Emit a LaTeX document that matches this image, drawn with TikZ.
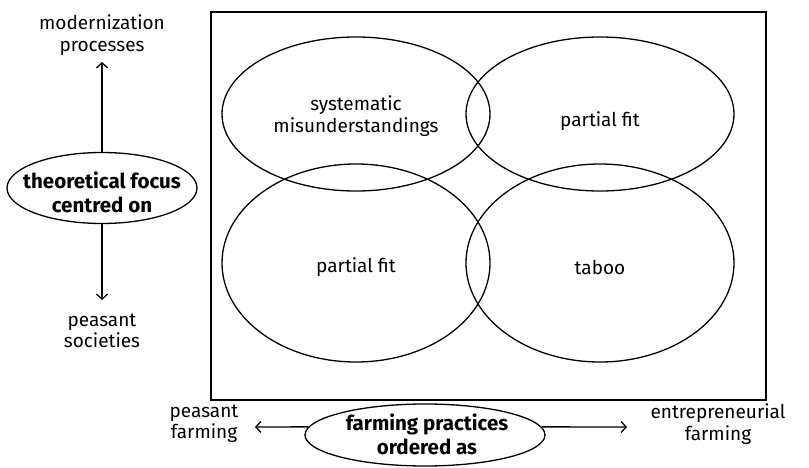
\documentclass[tikz,border=0pt]{standalone}
\usepackage{fontspec}
\setmainfont{Fira Sans}
\usetikzlibrary{shapes.geometric,arrows.meta}
\begin{document}
\begin{tikzpicture}[x=1pt,y=-1pt,
  lbl/.style={align=center,font=\fontsize{19}{21.5}\selectfont,inner sep=0pt},
  blbl/.style={align=center,font=\fontsize{20.5}{24}\selectfont\bfseries,inner sep=0pt},
  ell/.style={draw,ellipse,line width=1.3pt,inner sep=0pt},
  arr/.style={line width=1.3pt,-{Straight Barb[length=5pt,width=11pt]}}]
\useasboundingbox[fill=white] (0,0) rectangle (809,468);
% frame
\node[draw,line width=2.8pt,minimum width=555pt,minimum height=388pt,inner sep=0pt] (frame) at (488.5,206) {};
% four ellipses
\node[ell,minimum width=268pt,minimum height=154pt] (tl) at (356,114) {};
\node[ell,minimum width=268pt,minimum height=154pt] (tr) at (600,114) {};
\node[ell,minimum width=268pt,minimum height=198pt] (bl) at (356,263) {};
\node[ell,minimum width=268pt,minimum height=198pt] (br) at (600,263) {};
\node[lbl] (tlt) at (356,116) {systematic\\misunderstandings};
\node[lbl] (trt) at (600,121) {partial fit};
\node[lbl] (blt) at (356,267) {partial fit};
\node[lbl] (brt) at (600,267) {taboo};
% vertical axis
\node[ell,minimum width=190pt,minimum height=71pt] (focus) at (102,188) {};
\node[blbl] (focust) at (102,192) {theoretical focus\\centred on};
\node[lbl] (mod) at (102,35) {modernization\\processes};
\node[lbl] (peas) at (102,331) {peasant\\societies};
\coordinate (uptip) at (102,62);
\coordinate (downtip) at (102,300);
\draw[arr] (focus.north) -- (uptip);
\draw[arr] (focus.south) -- (downtip);
% horizontal axis
\node[ell,minimum width=240pt,minimum height=62pt] (farm) at (425,435) {};
\node[blbl] (farmt) at (427,434) {farming practices\\ordered as};
\node[lbl] (pf) at (204,424) {peasant\\farming};
\node[lbl] (ef) at (718,424) {entrepreneurial\\farming};
\coordinate (lefttip) at (255,427);
\coordinate (righttip) at (627,427);
\draw[arr] (farm.176) -- (lefttip);
\draw[arr] (farm.4) -- (righttip);
\end{tikzpicture}
\end{document}
